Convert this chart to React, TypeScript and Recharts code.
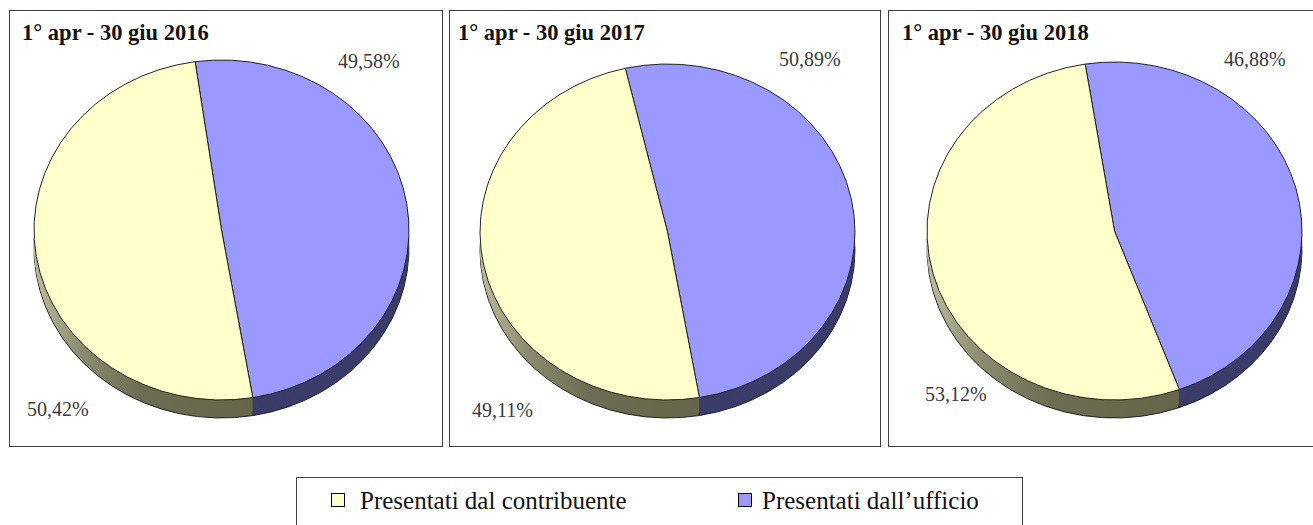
import React from "react";
import { PieChart, Pie, Cell } from "recharts";

const periods = ["1° apr - 30 giu 2016", "1° apr - 30 giu 2017", "1° apr - 30 giu 2018"];
const seriesNames = ["Presentati dal contribuente", "Presentati dall’ufficio"];
const contribuente = [50.42, 49.11, 53.12];
const ufficio = [49.58, 50.89, 46.88];
const firstSliceAngle = [-8.1, -13, -9];

const TOP_COLORS = { contribuente: "#FFFFCC", ufficio: "#9999FF" };
const SIDE_BLUE = "#3c3c6a";

const layout = [
  { left: 9, width: 434, cx: 221.5, cy: 230, rx: 187.5, ry: 170, titleX: 22, uX: 338, uY: 51, cX: 27, cY: 399 },
  { left: 449, width: 432, cx: 667, cy: 232, rx: 187.5, ry: 168, titleX: 458, uX: 779, uY: 49, cX: 472, cY: 400 },
  { left: 888, width: 440, cx: 1114.5, cy: 231, rx: 187.5, ry: 169, titleX: 902, uX: 1224, uY: 49, cX: 925, cY: 384 },
];

const DEPTH = 18;
const fmt = (v: number) => v.toFixed(2).replace(".", ",") + "%";

function Pie3D({ idx }: { idx: number }) {
  const L = layout[idx];
  const k = L.ry / L.rx;
  const pad = 6;
  const W = 2 * L.rx + 2 * pad;
  const Hs = 2 * L.ry + DEPTH + 2 * pad;
  const H = Hs / k;
  const cxc = L.rx + pad;
  const cyc = (L.ry + pad) / k;
  const depthC = DEPTH / k;
  const data = [
    { name: seriesNames[1], value: ufficio[idx] },
    { name: seriesNames[0], value: contribuente[idx] },
  ];
  const start = 90 - firstSliceAngle[idx];
  const end = start - 360;
  const gid = `sideY${idx}`;
  const layers = [];
  const n = 8;
  for (let i = n; i >= 1; i--) {
    layers.push(
      <Pie
        key={`side${i}`}
        data={data}
        dataKey="value"
        cx={cxc}
        cy={cyc + (depthC * i) / n}
        outerRadius={L.rx}
        startAngle={start}
        endAngle={end}
        stroke={i === n ? "#1a1a1a" : "none"}
        strokeWidth={1}
        isAnimationActive={false}
      >
        <Cell fill={SIDE_BLUE} />
        <Cell fill={`url(#${gid})`} />
      </Pie>
    );
  }
  return (
    <div
      style={{
        position: "absolute",
        left: L.cx - L.rx - pad,
        top: L.cy - L.ry - pad,
        width: W,
        height: H,
        transform: `scaleY(${k})`,
        transformOrigin: "0 0",
      }}
    >
      <PieChart width={W} height={H} margin={{ top: 0, right: 0, bottom: 0, left: 0 }}>
        <defs>
          <linearGradient id={gid} x1="0" y1="0" x2="1" y2="0">
            <stop offset="0" stopColor="#bcbc9c" />
            <stop offset="0.22" stopColor="#8a8a6e" />
            <stop offset="0.5" stopColor="#6c6c52" />
            <stop offset="1" stopColor="#66664a" />
          </linearGradient>
        </defs>
        {layers}
        <Pie
          data={data}
          dataKey="value"
          cx={cxc}
          cy={cyc}
          outerRadius={L.rx}
          startAngle={start}
          endAngle={end}
          stroke="#1a1a1a"
          strokeWidth={1}
          isAnimationActive={false}
        >
          <Cell fill={TOP_COLORS.ufficio} />
          <Cell fill={TOP_COLORS.contribuente} />
        </Pie>
      </PieChart>
    </div>
  );
}

const labelStyle: React.CSSProperties = {
  position: "absolute",
  fontFamily: "'Liberation Serif', serif",
  fontSize: 20,
  lineHeight: "20px",
  color: "#3a3a3a",
  whiteSpace: "nowrap",
};

export default function App() {
  return (
    <div
      style={{
        position: "absolute",
        left: 0,
        top: 0,
        width: 1313,
        height: 525,
        overflow: "hidden",
        background: "#fff",
      }}
    >
      {layout.map((L, i) => (
        <React.Fragment key={i}>
          <div
            style={{
              position: "absolute",
              left: L.left,
              top: 10,
              width: L.width,
              height: 437,
              border: "1px solid #404040",
              boxSizing: "border-box",
            }}
          />
          <Pie3D idx={i} />
          <div
            style={{
              position: "absolute",
              left: L.titleX,
              top: 22,
              fontFamily: "'Liberation Serif', serif",
              fontWeight: "bold",
              fontSize: 22.5,
              lineHeight: "22px",
              color: "#111",
              whiteSpace: "nowrap",
            }}
          >
            {periods[i]}
          </div>
          <div style={{ ...labelStyle, left: L.uX, top: L.uY }}>{fmt(ufficio[i])}</div>
          <div style={{ ...labelStyle, left: L.cX, top: L.cY }}>{fmt(contribuente[i])}</div>
        </React.Fragment>
      ))}
      <div
        style={{
          position: "absolute",
          left: 296,
          top: 477,
          width: 727,
          height: 80,
          border: "1px solid #404040",
          boxSizing: "border-box",
        }}
      />
      {[
        { name: seriesNames[0], color: TOP_COLORS.contribuente, sq: 331, tx: 360 },
        { name: seriesNames[1], color: TOP_COLORS.ufficio, sq: 738, tx: 762 },
      ].map((it) => (
        <React.Fragment key={it.name}>
          <div
            style={{
              position: "absolute",
              left: it.sq,
              top: 493,
              width: 14,
              height: 14,
              background: it.color,
              border: "1.5px solid #000",
              boxSizing: "border-box",
            }}
          />
          <div
            style={{
              position: "absolute",
              left: it.tx,
              top: 488,
              fontFamily: "'Liberation Serif', serif",
              fontSize: 25,
              lineHeight: "25px",
              color: "#111",
              whiteSpace: "nowrap",
            }}
          >
            {it.name}
          </div>
        </React.Fragment>
      ))}
    </div>
  );
}
